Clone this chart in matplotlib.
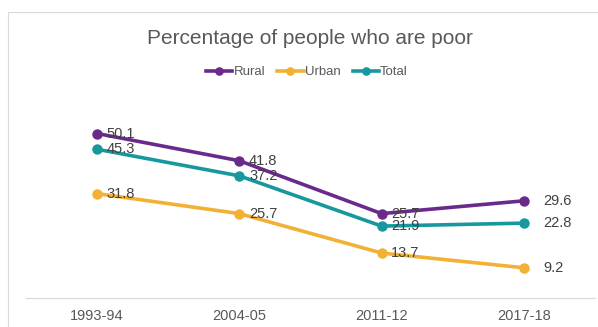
import matplotlib.pyplot as plt
from matplotlib.patches import Rectangle

years = ["1993-94", "2004-05", "2011-12", "2017-18"]
rural = [50.1, 41.8, 25.7, 29.6]
urban = [31.8, 25.7, 13.7, 9.2]
total = [45.3, 37.2, 21.9, 22.8]

colors = {"Rural": "#6A2A8C", "Urban": "#F2B134", "Total": "#17989E"}

plt.rcParams["font.family"] = ["Liberation Sans", "DejaVu Sans"]

fig = plt.figure(figsize=(5.98, 3.27), dpi=100)
fig.patches.append(Rectangle((8 / 598, -0.05), 1.0, 1 - 12 / 327 + 0.05,
                             transform=fig.transFigure, fill=False,
                             edgecolor="#d9d9d9", linewidth=0.8))
ax = fig.add_axes([26 / 598, 1 - 298 / 327, (595 - 26) / 598, (298 - 101) / 327])

x = range(len(years))
for name, vals in [("Rural", rural), ("Urban", urban), ("Total", total)]:
    ax.plot(x, vals, color=colors[name], marker="o", markersize=6.5,
            linewidth=2.6, label=name)
    for i, v in enumerate(vals):
        dx = 14 if i == len(vals) - 1 else 7
        ax.annotate(f"{v:.1f}", (i, v), xytext=(dx, 0), textcoords="offset points",
                    va="center", ha="left", fontsize=10.5, color="#404040")

ax.set_xlim(-0.5, 3.5)
ax.set_ylim(0, 60)
ax.set_xticks(list(x))
ax.set_xticklabels(years, fontsize=10.5, color="#595959")
ax.tick_params(axis="x", length=0, pad=8)
ax.set_yticks([])
for s in ["top", "left", "right"]:
    ax.spines[s].set_visible(False)
ax.spines["bottom"].set_color("#d9d9d9")

fig.text(310 / 598, 1 - 38 / 327, "Percentage of people who are poor",
         ha="center", va="center", fontsize=15, color="#595959")
fig.legend(loc="center", bbox_to_anchor=(307 / 598, 1 - 72 / 327), ncol=3,
           frameon=False, fontsize=9.5, handlelength=2.0, handletextpad=0.1,
           columnspacing=0.9, labelcolor="#595959", markerscale=0.8)

fig.savefig("out.png", dpi=100)
